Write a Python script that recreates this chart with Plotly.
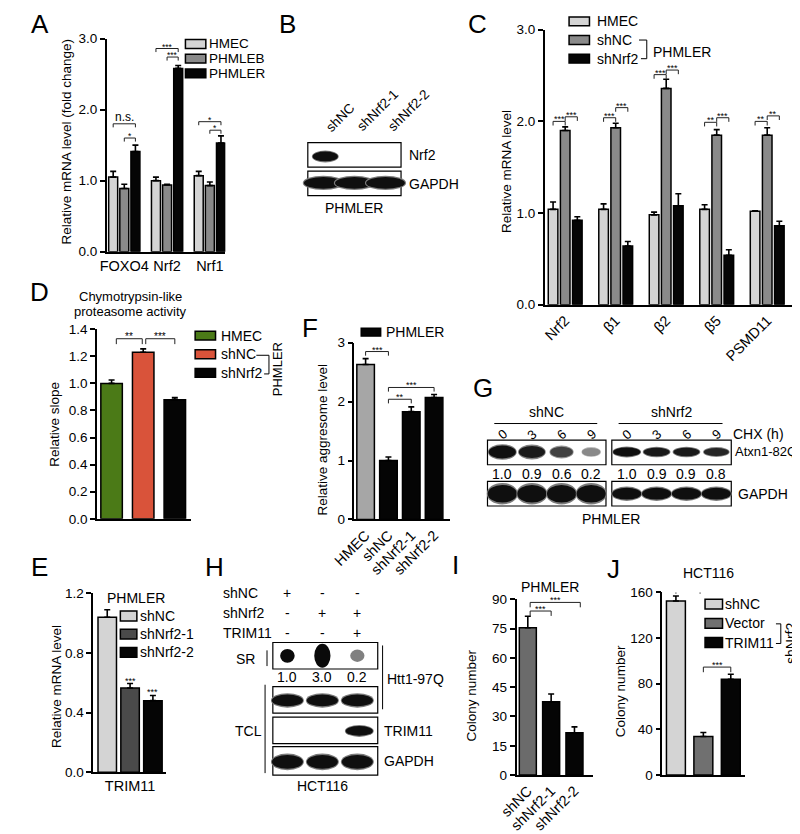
import plotly.graph_objects as go

W, H = 800, 834
FONT = "Liberation Sans, Arial, Helvetica, sans-serif"
OFF = 8  # page margin offset of the figure inside the browser window

# ---------------- data ----------------
A_genes = ["FOXO4", "Nrf2", "Nrf1"]
A_series = ["HMEC", "PHMLEB", "PHMLER"]
A_hmec = [1.05, 1.00, 1.07]
A_hmec_err = [0.08, 0.05, 0.06]
A_phmleb = [0.89, 0.94, 0.93]
A_phmleb_err = [0.06, 0.01, 0.05]
A_phmler = [1.41, 2.58, 1.53]
A_phmler_err = [0.09, 0.04, 0.10]
A_sig = [(0, 0, 2, 1.80, "n.s."), (0, 1, 2, 1.60, "*"),
         (1, 0, 2, 2.86, "***"), (1, 1, 2, 2.74, "***"),
         (2, 0, 2, 1.83, "*"), (2, 1, 2, 1.71, "*")]
A_yticks = [0, 1, 2, 3]
A_yticktext = ["0.0", "1.0", "2.0", "3.0"]

B_lanes = ["shNC", "shNrf2-1", "shNrf2-2"]
B_nrf2 = [1.0, 0.0, 0.0]
B_gapdh = [1.0, 1.0, 1.0]

C_genes = ["Nrf2", "β1", "β2", "β5", "PSMD11"]
C_series = ["HMEC", "shNC", "shNrf2"]
C_hmec = [1.04, 1.04, 0.98, 1.04, 1.02]
C_hmec_err = [0.08, 0.06, 0.03, 0.05, 0.005]
C_shnc = [1.90, 1.93, 2.36, 1.85, 1.85]
C_shnc_err = [0.04, 0.05, 0.10, 0.06, 0.08]
C_shnrf2 = [0.92, 0.64, 1.08, 0.54, 0.86]
C_shnrf2_err = [0.04, 0.05, 0.13, 0.06, 0.05]
C_sig = [(0, 0, 1, 2.00, "***"), (0, 1, 2, 2.05, "***"),
         (1, 0, 1, 2.04, "***"), (1, 1, 2, 2.15, "***"),
         (2, 0, 1, 2.51, "***"), (2, 1, 2, 2.56, "***"),
         (3, 0, 1, 1.99, "**"), (3, 1, 2, 2.04, "***"),
         (4, 0, 1, 2.00, "**"), (4, 1, 2, 2.06, "**")]
C_yticks = [0, 1, 2, 3]
C_yticktext = ["0.0", "1.0", "2.0", "3.0"]

D_groups = ["HMEC", "shNC", "shNrf2"]
D_vals = [1.00, 1.23, 0.88]
D_err = [0.025, 0.025, 0.015]
D_sig = [(0, 1, 1.33, "**"), (1, 2, 1.33, "***")]
D_yticks = [0, 0.2, 0.4, 0.6, 0.8, 1.0, 1.2, 1.4]
D_yticktext = ["0.0", "0.2", "0.4", "0.6", "0.8", "1.0", "1.2", "1.4"]

E_groups = ["shNC", "shNrf2-1", "shNrf2-2"]
E_vals = [1.04, 0.565, 0.48]
E_err = [0.05, 0.03, 0.035]
E_sig = ["", "***", "***"]
E_yticks = [0, 0.4, 0.8, 1.2]
E_yticktext = ["0.0", "0.4", "0.8", "1.2"]

F_groups = ["HMEC", "shNC", "shNrf2-1", "shNrf2-2"]
F_vals = [2.63, 1.00, 1.83, 2.07]
F_err = [0.10, 0.06, 0.08, 0.05]
F_sig = [(0, 1, 2.85, "***"), (1, 3, 2.24, "***"), (1, 2, 2.04, "**")]
F_yticks = [0, 1, 2, 3]

G_times = ["0", "3", "6", "9"]
G_shNC_atxn = [1.0, 0.9, 0.6, 0.2]
G_shNrf2_atxn = [1.0, 0.9, 0.9, 0.8]
G_gapdh = [1.0, 1.0, 1.0, 1.0]

H_rows = ["shNC", "shNrf2", "TRIM11"]
H_signs = [["+", "-", "-"], ["-", "+", "+"], ["-", "-", "+"]]
H_SR = [1.0, 3.0, 0.2]
H_htt_tcl = [1.0, 1.0, 1.0]
H_trim11 = [0.0, 0.0, 1.0]
H_gapdh = [1.0, 1.0, 1.0]

I_groups = ["shNC", "shNrf2-1", "shNrf2-2"]
I_vals = [75.4, 37.5, 21.7]
I_err = [5.9, 4.0, 3.0]
I_sig = [(0, 1, 84.0, "***"), (0, 2, 88.4, "***")]
I_yticks = [0, 15, 30, 45, 60, 75, 90]

J_groups = ["shNC", "Vector", "TRIM11"]
J_vals = [152.5, 33.8, 84.0]
J_err = [4.3, 3.5, 4.3]
J_sig = [(0, 1, 163.4, "***"), (1, 2, 94.6, "***")]
J_yticks = [0, 40, 80, 120, 160]

# ---------------- styles ----------------
LGRAY = "#d4d4d4"
MGRAY = "#8a8a8a"
DGRAY = "#4a4a4a"
BLACK = "#050505"
GREEN = "#4b7a17"
RED = "#d9533a"
LW = 1.6
TICK = 13.5
CAT = 14.5
LEG = 14
TITLE = 13.5

fig = go.Figure()
layout = dict(width=W, height=H, margin=dict(l=0, r=0, t=0, b=0),
              paper_bgcolor="white", plot_bgcolor="white", showlegend=False,
              barmode="overlay", font=dict(family=FONT, size=13, color="black"))
shapes = []
annotations = []


def X(x):
    return (x - OFF) / W


def Y(y):
    return 1 - (y - OFF) / H


def text(x, y, s, size=13, xanchor="center", yanchor="middle", angle=0, color="black"):
    annotations.append(dict(x=X(x), y=Y(y), xref="paper", yref="paper", text=s,
                            showarrow=False, font=dict(size=size, color=color), borderpad=0,
                            xanchor=xanchor, yanchor=yanchor, textangle=angle))


def line_px(x0, y0, x1, y1, w=1.0, color="black"):
    shapes.append(dict(type="line", xref="paper", yref="paper", x0=X(x0), y0=Y(y0),
                       x1=X(x1), y1=Y(y1), line=dict(color=color, width=w)))


def rect_px(x0, y0, x1, y1, fill="white", lw=1.2, color="black"):
    shapes.append(dict(type="rect", xref="paper", yref="paper", x0=X(x0), y0=Y(y1),
                       x1=X(x1), y1=Y(y0), fillcolor=fill, line=dict(color=color, width=lw)))


def ellipse_px(cx, cy, w, h, fill):
    shapes.append(dict(type="circle", xref="paper", yref="paper", x0=X(cx - w / 2), y0=Y(cy + h / 2),
                       x1=X(cx + w / 2), y1=Y(cy - h / 2), fillcolor=fill, line=dict(width=0)))


def band(cx, cy, w, h, v, size_mod=True):
    if v <= 0:
        return
    s = min(v, 1.0)
    g = int(round(235 - 220 * s ** 0.5))
    ws = w * (0.6 + 0.4 * s) if size_mod else w
    hs = h * (0.55 + 0.45 * s) if size_mod else h
    hg = int(round(g + (255 - g) * 0.45))
    ellipse_px(cx, cy, ws * 1.06, hs * 1.22, f"rgb({hg},{hg},{hg})")
    ellipse_px(cx, cy, ws, hs, f"rgb({g},{g},{g})")


def names(n):
    if n == 1:
        return "x", "y", "xaxis", "yaxis"
    return f"x{n}", f"y{n}", f"xaxis{n}", f"yaxis{n}"


def setup_axes(n, xpx, ypx, xr, yr, yt, ytt, xt=None, xtt=None, xangle=0, xlabels=True):
    xr_, yr_, xa, ya = names(n)
    layout[xa] = dict(domain=[X(xpx[0]), X(xpx[1])], range=xr, anchor=yr_, showline=True,
                      linecolor="black", linewidth=LW, ticks="", showgrid=False, zeroline=False,
                      tickvals=xt if xt is not None else [], ticktext=xtt if xtt is not None else [],
                      tickangle=xangle, showticklabels=xlabels,
                      tickfont=dict(size=CAT, color="black"), fixedrange=True)
    layout[ya] = dict(domain=[Y(ypx[1]), Y(ypx[0])], range=yr, anchor=xr_, showline=True,
                      linecolor="black", linewidth=LW, ticks="outside", ticklen=5, tickwidth=LW,
                      tickcolor="black", showgrid=False, zeroline=False, tickvals=yt, ticktext=ytt,
                      tickfont=dict(size=TICK, color="black"), fixedrange=True)


def bars(n, xs, ys, errs, colors, width):
    xr_, yr_, _, _ = names(n)
    fig.add_trace(go.Bar(x=xs, y=ys, width=width,
                         marker=dict(color=colors, line=dict(color="black", width=1.5)),
                         error_y=dict(type="data", array=errs, arrayminus=[0] * len(ys),
                                      symmetric=False, color="black", thickness=1.6, width=3),
                         xaxis=xr_, yaxis=yr_, hoverinfo="skip"))


def bracket(n, x0, x1, y, drop, label, size=9, yshift=-4):
    xr_, yr_, _, _ = names(n)
    shapes.append(dict(type="path", xref=xr_, yref=yr_,
                       path=f"M {x0},{y - drop} L {x0},{y} L {x1},{y} L {x1},{y - drop}",
                       line=dict(color="#222", width=1)))
    annotations.append(dict(x=(x0 + x1) / 2, y=y, xref=xr_, yref=yr_, text=label, showarrow=False,
                            yanchor="bottom", font=dict(size=size, color="black"), yshift=yshift,
                            borderpad=0))


def legend_item(x0, y0, x1, y1, color, label, tx, size=LEG):
    rect_px(x0, y0, x1, y1, fill=color, lw=1.5)
    text(tx, (y0 + y1) / 2, label, size=size, xanchor="left")


def panel_letter(x, y, s):
    text(x, y, s, size=26)


# ---------------- Panel A ----------------
setup_axes(1, (86, 208), (32, 249), [-0.41, 2.36], [0, 3], A_yticks, A_yticktext,
           xt=list(range(len(A_genes))), xtt=A_genes)
A_off = [-0.26, 0.0, 0.26]
for k, (vals, errs, col) in enumerate([(A_hmec, A_hmec_err, LGRAY), (A_phmleb, A_phmleb_err, MGRAY),
                                       (A_phmler, A_phmler_err, BLACK)]):
    bars(1, [g + A_off[k] for g in range(len(A_genes))], vals, errs, col, 0.21)
for g, i0, i1, yv, lab in A_sig:
    bracket(1, g + A_off[i0], g + A_off[i1], yv, 0.05, lab, size=12 if lab == "n.s." else 8.5,
            yshift=-1 if lab == "n.s." else -4)
for k, (lab, col) in enumerate(zip(A_series, [LGRAY, MGRAY, BLACK])):
    legend_item(167, 33 + 15 * k, 188, 42 + 15 * k, col, lab, 190, size=13.5)
text(45, 137, "Relative mRNA level (fold change)", angle=-90, size=TITLE)
panel_letter(17, 17.5, "A")

# ---------------- Panel B (blot) ----------------
panel_letter(272, 17.5, "B")
bx0, bx1 = 293, 389
lw_b = (bx1 - bx0) / len(B_lanes)
rect_px(bx0, 138, bx1, 163)
rect_px(bx0, 167, bx1, 192)
for i, lab in enumerate(B_lanes):
    cx = bx0 + (i + 0.5) * lw_b
    text(cx - 2, 131, lab, size=13.5, xanchor="left", yanchor="bottom", angle=-45)
    band(cx + 2, 152, 26, 10, B_nrf2[i], size_mod=False)
    band(cx, 179, 40, 12, B_gapdh[i], size_mod=False)
text(396, 151, "Nrf2", xanchor="left", size=LEG)
text(396, 180, "GAPDH", xanchor="left", size=LEG)
text(341, 205, "PHMLER", size=LEG)

# ---------------- Panel C ----------------
setup_axes(3, (537, 797), (23, 303), [-0.404, 4.596], [0, 3], C_yticks, C_yticktext,
           xt=list(range(len(C_genes))), xtt=C_genes, xangle=-45)
C_off = [-0.24, 0.0, 0.24]
for k, (vals, errs, col) in enumerate([(C_hmec, C_hmec_err, LGRAY), (C_shnc, C_shnc_err, MGRAY),
                                       (C_shnrf2, C_shnrf2_err, BLACK)]):
    bars(3, [g + C_off[k] for g in range(len(C_genes))], vals, errs, col, 0.19)
for g, i0, i1, yv, lab in C_sig:
    bracket(3, g + C_off[i0], g + C_off[i1], yv, 0.045, lab)
for k, (lab, col) in enumerate(zip(C_series, [LGRAY, MGRAY, BLACK])):
    legend_item(562, 10 + 19 * k, 583, 19 + 19 * k, col, lab, 590)
line_px(634, 33.5, 642, 33.5)
line_px(642, 33.5, 642, 52.5)
line_px(636, 52.5, 642, 52.5)
text(647, 46, "PHMLER", xanchor="left", size=LEG)
text(497, 167, "Relative mRNA level", angle=-90, size=TITLE)
panel_letter(468, 17.5, "C")

# ---------------- Panel D ----------------
setup_axes(4, (76, 173), (328, 521), [-0.46, 2.52], [0, 1.4], D_yticks, D_yticktext, xlabels=False)
bars(4, list(range(len(D_groups))), D_vals, D_err, [GREEN, RED, BLACK], 0.68)
for i0, i1, yv, lab in D_sig:
    bracket(4, i0 + (0.15 if i0 == 0 else 0.08), i1 - (0.03 if i1 == 1 else 0.0), yv, 0.04, lab, size=10)
text(110, 295, "Chymotrypsin-like", size=13)
text(110, 310, "proteasome activity", size=13)
for k, (lab, col) in enumerate(zip(D_groups, [GREEN, RED, BLACK])):
    legend_item(177, 330 + 19 * k, 198, 339 + 19 * k, col, lab, 203)
line_px(240, 354.5, 253, 354.5)
line_px(253, 354.5, 253, 373.5)
line_px(248, 373.5, 253, 373.5)
text(262, 369, "PHMLER", angle=-90, size=13)
text(32, 425, "Relative slope", angle=-90, size=TITLE)
panel_letter(17, 290, "D")

# ---------------- Panel E ----------------
setup_axes(5, (72, 147), (597, 779), [-0.617, 2.574], [0, 1.2], E_yticks, E_yticktext,
           xt=[1], xtt=["TRIM11"])
bars(5, list(range(len(E_groups))), E_vals, E_err, [LGRAY, DGRAY, BLACK], 0.81)
for i, lab in enumerate(E_sig):
    if lab:
        annotations.append(dict(x=i, y=E_vals[i] + E_err[i], xref="x5", yref="y5", text=lab,
                                showarrow=False, yanchor="bottom", font=dict(size=9), yshift=-3,
                                borderpad=0))
text(85, 602, "PHMLER", size=LEG, xanchor="left")
for k, (lab, col) in enumerate(zip(E_groups, [LGRAY, DGRAY, BLACK])):
    legend_item(100, 615 + 18.5 * k, 117, 625 + 18.5 * k, col, lab, 119)
text(34, 692, "Relative mRNA level", angle=-90, size=TITLE)
panel_letter(17, 570, "E")

# ---------------- Panel F ----------------
setup_axes(6, (341, 439), (341.7, 521.7), [-0.49, 3.68], [0, 3], F_yticks, [str(v) for v in F_yticks],
           xt=list(range(len(F_groups))), xtt=F_groups, xangle=-45)
bars(6, list(range(len(F_groups))), F_vals, F_err, ["#a6a6a6", BLACK, BLACK, BLACK], 0.77)
for i0, i1, yv, lab in F_sig:
    bracket(6, i0, i1, yv, 0.07, lab)
legend_item(348, 327, 368, 335, BLACK, "PHMLER", 372)
text(308, 440, "Relative aggresome level", angle=-90, size=TITLE)
panel_letter(295, 327, "F")

# ---------------- Panel G (blot) ----------------
panel_letter(473, 388, "G")
G_blocks = [(478, 600, G_shNC_atxn, "shNC", 13, 18), (606, 729, G_shNrf2_atxn, "shNrf2", 9, 12)]
for x0, x1, atxn, lab, h1, h2 in G_blocks:
    lw_g = (x1 - x0) / len(G_times)
    rect_px(x0, 441, x1, 466)
    rect_px(x0, 483, x1, 508)
    text((x0 + x1) / 2, 412, lab, size=LEG)
    line_px(x0 + 7, 424, x1 - 9, 424)
    for i, t in enumerate(G_times):
        cx = x0 + (i + 0.5) * lw_g
        text(cx, 435, t, size=13, angle=-40)
        band(cx, 453, 28, h1, atxn[i])
        text(cx, 475, f"{atxn[i]:.1f}", size=LEG)
        band(cx, 495.5, 30, h2, G_gapdh[i], size_mod=False)
text(730, 435, "CHX (h)", size=LEG, xanchor="left")
text(732, 453, "Atxn1-82Q", size=13, xanchor="left")
text(735, 496, "GAPDH", size=LEG, xanchor="left")
text(605, 521, "PHMLER", size=LEG)

# ---------------- Panel H (blot) ----------------
panel_letter(197, 570, "H")
hx0, hx1 = 257, 365
lw_h = (hx1 - hx0) / 3
for r, (rl, signs) in enumerate(zip(H_rows, H_signs)):
    yy = 597 + 20 * r
    text(205, yy, rl, size=LEG, xanchor="left")
    for i, s in enumerate(signs):
        text(hx0 + (i + 0.5) * lw_h - 3, yy, s, size=LEG)
rect_px(hx0, 647, hx1, 674)
rect_px(hx0, 692, hx1, 719)
rect_px(hx0, 723, hx1, 750)
rect_px(hx0, 753, hx1, 782)
for i in range(3):
    cx = hx0 + (i + 0.5) * lw_h - 3
    v = H_SR[i]
    s = min(v, 1.0)
    g = int(round(200 - 190 * s ** 0.6))
    hh = 14 * max(v, 0.8) ** 0.5
    ww = 15 * max(v, 0.8) ** 0.1
    ellipse_px(cx, 660.5, ww, hh, f"rgb({g},{g},{g})")
    text(cx, 682, f"{v:.1f}", size=LEG)
    band(cx, 706, 32, 12, H_htt_tcl[i], size_mod=False)
    band(cx + 2, 737, 28, 10, H_trim11[i], size_mod=False)
    band(cx, 768.5, 32, 14, H_gapdh[i], size_mod=False)
text(229, 664, "SR", size=LEG)
line_px(251, 655, 251, 671)
text(232, 737, "TCL", size=LEG)
line_px(249, 690, 249, 780)
line_px(370, 650, 370, 715)
text(374, 684, "Htt1-97Q", size=LEG, xanchor="left")
text(370, 737, "TRIM11", size=LEG, xanchor="left")
text(370, 768, "GAPDH", size=LEG, xanchor="left")
text(308, 793, "HCT116", size=LEG)

# ---------------- Panel I ----------------
setup_axes(9, (508, 587), (603, 782), [-0.48, 2.81], [0, 90], I_yticks, [str(v) for v in I_yticks],
           xt=list(range(len(I_groups))), xtt=I_groups, xangle=-45)
bars(9, list(range(len(I_groups))), I_vals, I_err, ["#6b6b6b", BLACK, BLACK], 0.73)
for i0, i1, yv, lab in I_sig:
    bracket(9, i0 + 0.1, i1 + (0.25 if i1 == 2 else 0.0), yv, 2.5, lab)
text(542, 590, "PHMLER", size=LEG)
text(462, 701, "Colony number", angle=-90, size=TITLE)
panel_letter(445, 568, "I")

# ---------------- Panel J ----------------
setup_axes(10, (658, 743), (596, 782), [-0.496, 2.513], [0, 160], J_yticks, [str(v) for v in J_yticks],
           xlabels=False)
bars(10, list(range(len(J_groups))), J_vals, J_err, [LGRAY, "#707070", BLACK], 0.69)
for i0, i1, yv, lab in J_sig:
    bracket(10, i0, i1 - (0.12 if i0 == 0 else 0.0), yv, 4.5, lab)
for k, (lab, col) in enumerate(zip(J_groups, [LGRAY, "#707070", BLACK])):
    legend_item(702, 603 + 19.5 * k, 720, 613 + 19.5 * k, col, lab, 722)
line_px(775, 628, 780, 628)
line_px(780, 628, 780, 648)
line_px(775, 648, 780, 648)
text(791, 648, "shNrf2", angle=-90, size=LEG)
text(706, 576, "HCT116", size=LEG)
text(615, 697, "Colony number", angle=-90, size=TITLE)
panel_letter(608, 572, "J")

layout["shapes"] = shapes
layout["annotations"] = annotations
fig.update_layout(**layout)
fig.write_html("out.html")
